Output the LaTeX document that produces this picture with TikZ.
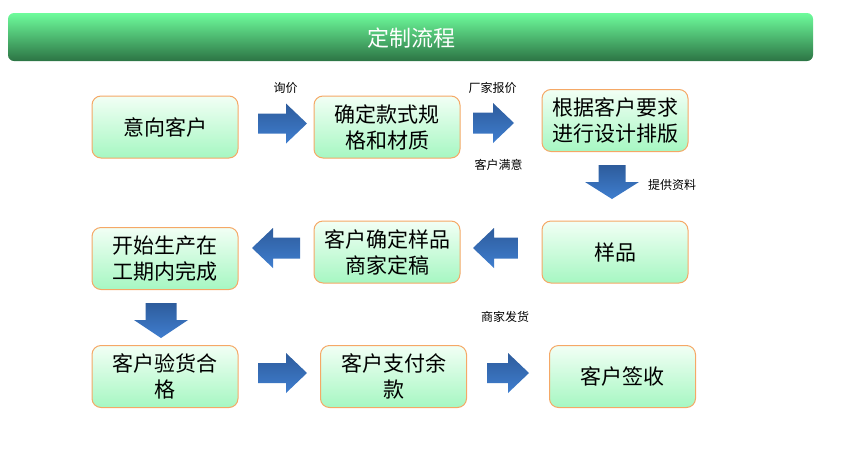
\documentclass[tikz,border=0pt]{standalone}
\usepackage{fontspec}
\newfontfamily\cjk{Noto Sans CJK SC}

\definecolor{boxtop}{HTML}{F2FFF5}
\definecolor{boxbot}{HTML}{A6F7C2}
\definecolor{boxline}{HTML}{F5A866}
\definecolor{bartop}{HTML}{6EFC9C}
\definecolor{barmid}{HTML}{55C47E}
\definecolor{barbot}{HTML}{2C7444}
\definecolor{arrdark}{HTML}{2E5C9C}
\definecolor{arrlight}{HTML}{3F7ECF}

\tikzset{
  stepbox/.style={draw=boxline, line width=1pt, rounded corners=9pt,
    top color=boxtop, bottom color=boxbot,
    minimum width=146pt, minimum height=62pt, inner sep=0pt,
    align=center, font=\cjk\fontsize{21}{26}\selectfont},
  note/.style={inner sep=0pt, font=\cjk\fontsize{12}{14}\selectfont},
  % length / width / shaft / head
  pics/blockarrow/.style n args={4}{code={
    \shade[top color=arrdark, bottom color=arrlight]
      (-#1/2,-#3/2) -- (#1/2-#4,-#3/2) -- (#1/2-#4,-#2/2) -- (#1/2,0)
      -- (#1/2-#4,#2/2) -- (#1/2-#4,#3/2) -- (-#1/2,#3/2) -- cycle;
  }},
}

\begin{document}
\begin{tikzpicture}[x=1pt, y=-1pt]

\useasboundingbox (0,0) rectangle (841,464);

% ===== タイトル =====
\shade[rounded corners=6pt, top color=bartop, middle color=barmid, bottom color=barbot]
  (8,13) rectangle (813,61);
\node[font=\cjk\fontsize{22}{26}\selectfont, text=white] (title) at (411,38) {定制流程};

% ===== 1段目 =====
\node[stepbox] (intent)  at (165,127)   {意向客户};
\node[stepbox] (spec)    at (387,127)   {确定款式规\\格和材质};
\node[stepbox] (design)  at (615,120.5) {根据客户要求\\进行设计排版};

\pic at (282.5,123.5) {blockarrow={49}{40}{20}{21}};
\pic at (493.5,123)   {blockarrow={41}{40}{21}{21}};
\node[note] (ask)   at (285.5,88)  {询价};
\node[note] (quote) at (492.5,88)  {厂家报价};
\node[note] (ok)    at (498.5,165) {客户满意};

% 下向き
\pic[rotate=-90] at (612,182) {blockarrow={34}{54}{27}{17}};
\node[note] (data) at (672,185) {提供资料};

% ===== 2段目 =====
\node[stepbox] (sample)  at (615,252)   {样品};
\node[stepbox] (confirm) at (387,252)   {客户确定样品\\商家定稿};
\node[stepbox] (produce) at (165,258.5) {开始生产在\\工期内完成};

\pic[rotate=180] at (495.5,248) {blockarrow={45}{40}{21}{21}};
\pic[rotate=180] at (276,248)   {blockarrow={48}{40}{21}{21}};

% 下向き
\pic[rotate=-90] at (161,320.5) {blockarrow={35}{54}{31}{18}};

% ===== 3段目 =====
\node[stepbox] (check)   at (165,376.5)   {客户验货合\\格};
\node[stepbox] (pay)     at (393.5,376.5) {客户支付余\\款};
\node[stepbox] (receive) at (622.5,376.5) {客户签收};

\pic at (282.5,373) {blockarrow={49}{40}{20}{21}};
\pic at (508,373)   {blockarrow={42}{40}{20}{21}};
\node[note] (ship) at (505,317) {商家发货};

\end{tikzpicture}
\end{document}
